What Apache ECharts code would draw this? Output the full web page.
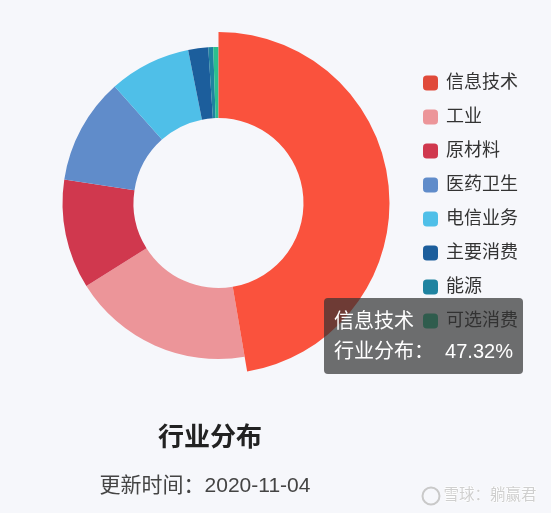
<!DOCTYPE html>
<html><head><meta charset="utf-8">
<script src="https://cdn.jsdelivr.net/npm/echarts@6/dist/echarts.min.js"></script>
<style>html,body{margin:0;padding:0;background:#f6f7fb;}#c{width:551px;height:513px;}</style>
</head><body><div id="c"></div>
<script>
const categories = ['信息技术','工业','原材料','医药卫生','电信业务','主要消费','能源','可选消费'];
const shares = [47.32, 18.76, 11.33, 11.00, 8.47, 2.07, 0.51, 0.54];
const colors = ['#e04a3a','#ec9599','#d0384e','#608cca','#4fbfe8','#1c5e9c','#1f83a0','#2bc08e'];
const titleText = '行业分布';
const subText = '更新时间：2020-11-04';
const watermark = '雪球：躺赢君';

const fam = "'Liberation Sans', 'Noto Sans CJK SC', sans-serif";
const chart = echarts.init(document.getElementById('c'));
chart.setOption({
  backgroundColor: '#f6f7fb',
  animation: false,
  color: colors,
  title: [
    {text: titleText, left: 210, top: 426, textAlign: 'center', padding: 0,
     textStyle: {fontSize: 26, fontWeight: 'bold', color: '#222', fontFamily: fam}},
    {text: subText, left: 205, top: 476, textAlign: 'center', padding: 0,
     textStyle: {fontSize: 21, fontWeight: 'normal', color: '#444', fontFamily: fam}}
  ],
  tooltip: {
    trigger: 'item', triggerOn: 'none', alwaysShowContent: true,
    position: [324, 298],
    backgroundColor: 'rgba(50,50,50,0.7)', borderWidth: 0, padding: [8, 10],
    textStyle: {color: '#fff', fontSize: 20, fontFamily: fam},
    extraCssText: 'box-shadow:none;border-radius:4px;line-height:30px;',
    formatter: p => p.name + '<br/>行业分布：&nbsp;&nbsp;' + p.value.toFixed(2) + '%'
  },
  legend: {
    orient: 'vertical', left: 423, top: 74, padding: 0,
    itemWidth: 15, itemHeight: 15, itemGap: 16,
    icon: 'roundRect', data: categories,
    textStyle: {fontSize: 18, color: '#333', fontFamily: fam, padding: [0,0,0,3]}
  },
  graphic: [
    {type: 'circle', shape: {cx: 431, cy: 496, r: 8.5},
     style: {fill: 'none', stroke: '#c9c9c9', lineWidth: 2}},
    {type: 'text', left: 443, top: 487,
     style: {text: watermark, fontSize: 15.5, fill: '#cfcfcf', stroke: '#ffffff', lineWidth: 1, fontFamily: fam}}
  ],
  series: [{
    type: 'pie', center: [218.5, 203], radius: [85, 156],
    startAngle: 90, clockwise: true, avoidLabelOverlap: false,
    label: {show: false}, labelLine: {show: false},
    emphasis: {scale: true, scaleSize: 15, itemStyle: {color: '#fa523d'}},
    data: categories.map((n, i) => ({name: n, value: shares[i]}))
  }]
});
chart.dispatchAction({type: 'highlight', seriesIndex: 0, dataIndex: 0});
chart.dispatchAction({type: 'showTip', seriesIndex: 0, dataIndex: 0});
</script></body></html>
